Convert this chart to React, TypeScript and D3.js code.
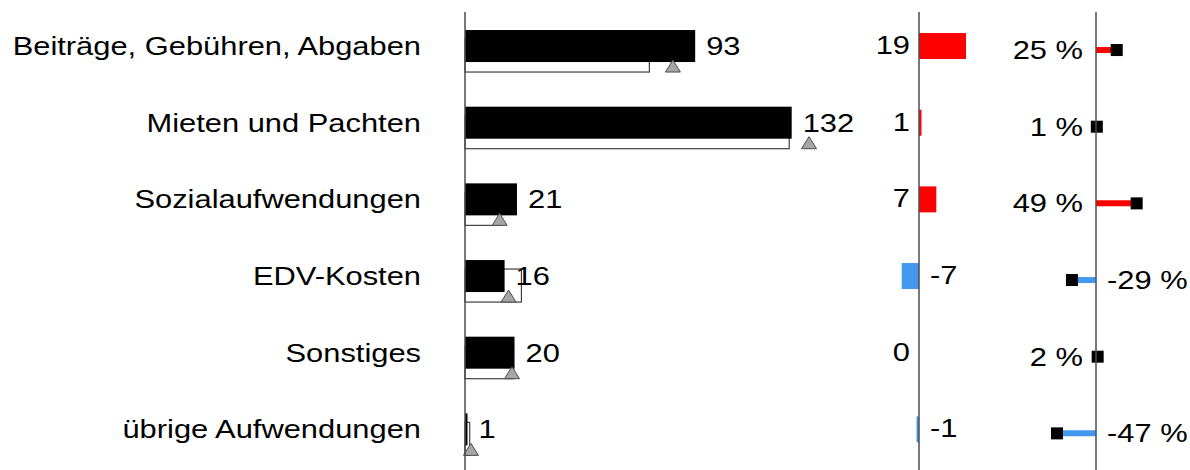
import React, { useEffect, useRef } from 'react';
import * as d3 from 'd3';

const categories = [
    'Beiträge, Gebühren, Abgaben',
    'Mieten und Pachten',
    'Sozialaufwendungen',
    'EDV-Kosten',
    'Sonstiges',
    'übrige Aufwendungen',
];
const actual = [93, 132, 21, 16, 20, 1];
const previous = [74.5, 131, 14.2, 22.8, 19.6, 1.9];
const plan = [84, 139, 14, 17.6, 19, 2.4];
const deltaAbs = [19, 1, 7, -7, 0, -1];
const deltaPct = [25, 1, 49, -29, 2, -47];

const W = 1190;
const H = 470;
const FONT = '"Liberation Sans", Arial, sans-serif';
const STRETCH = 1.235; // the picture's text is wider than it is tall
const RED = '#ff0000';
const BLUE = '#4499ee';

const App: React.FC = () => {
    const svgRef = useRef<SVGSVGElement | null>(null);

    useEffect(() => {
        if (svgRef.current) drawChart();
    }, []);

    const drawChart = () => {
        const svg = d3.select(svgRef.current);
        svg.selectAll('*').remove();

        const y = d3.scaleBand<string>().domain(categories).range([7.7, 467.7]);
        const mid = (i: number) => (y(categories[i]) as number) + y.bandwidth() / 2;

        const x = d3.scaleLinear().domain([0, 140]).range([465, 465 + 140 * 2.475]);
        const dx = d3.scaleLinear().domain([-20, 20]).range([919 - 49.5, 919 + 49.5]);
        const px = d3.scaleLinear().domain([-50, 50]).range([1096 - 41.5, 1096 + 41.5]);

        const rows = categories.map((c, i) => i);

        const addText = (
            g: d3.Selection<SVGGElement, unknown, null, undefined>,
            tx: number,
            ty: number,
            anchor: string,
            txt: string
        ) =>
            g
                .append('text')
                .attr('transform', `translate(${tx},${ty}) scale(${STRETCH},1)`)
                .attr('text-anchor', anchor)
                .style('font-family', FONT)
                .style('font-size', '25px')
                .style('fill', '#000')
                .text(txt);

        const root = svg.append('g');

        // category labels
        const labels = root.append('g');
        rows.forEach((i) => addText(labels, 421, mid(i) + 9, 'end', categories[i]));

        // previous year bars (behind, shifted down)
        root.append('g')
            .selectAll('rect')
            .data(rows)
            .enter()
            .append('rect')
            .attr('x', x(0))
            .attr('y', (i) => mid(i) - 7)
            .attr('width', (i) => x(previous[i]) - x(0))
            .attr('height', 33)
            .style('fill', '#fff')
            .style('stroke', '#404040')
            .style('stroke-width', 1.2);

        // actual bars
        root.append('g')
            .selectAll('rect')
            .data(rows)
            .enter()
            .append('rect')
            .attr('x', x(0))
            .attr('y', (i) => mid(i) - 16)
            .attr('width', (i) => x(actual[i]) - x(0))
            .attr('height', 32)
            .style('fill', '#000');

        // plan triangles
        const tri = d3.line()([
            [0, -12],
            [-7.5, 0],
            [7.5, 0],
        ]) + 'Z';
        root.append('g')
            .selectAll('path')
            .data(rows)
            .enter()
            .append('path')
            .attr('d', tri)
            .attr('transform', (i) => `translate(${x(plan[i])},${mid(i) + 26})`)
            .style('fill', '#a6a6a6')
            .style('stroke', '#4d4d4d')
            .style('stroke-width', 1);

        // actual value labels
        const acLab = root.append('g');
        rows.forEach((i) => addText(acLab, x(actual[i]) + 11, mid(i) + 9, 'start', String(actual[i])));

        // absolute deltas
        root.append('g')
            .selectAll('rect')
            .data(rows)
            .enter()
            .append('rect')
            .attr('x', (i) => dx(Math.min(0, deltaAbs[i])))
            .attr('y', (i) => mid(i) - 13)
            .attr('width', (i) => Math.abs(dx(deltaAbs[i]) - dx(0)))
            .attr('height', 26)
            .style('fill', (i) => (deltaAbs[i] >= 0 ? RED : BLUE));

        const dLab = root.append('g');
        rows.forEach((i) => {
            const v = deltaAbs[i];
            addText(dLab, v >= 0 ? dx(0) - 9 : dx(0) + 11, mid(i) + 8, v >= 0 ? 'end' : 'start', String(v));
        });

        // percentage deltas (pins)
        const pins = root.append('g');
        rows.forEach((i) => {
            const v = deltaPct[i];
            const cy = mid(i) + 4;
            pins.append('line')
                .attr('x1', px(0))
                .attr('x2', px(v))
                .attr('y1', cy)
                .attr('y2', cy)
                .style('stroke', v >= 0 ? RED : BLUE)
                .style('stroke-width', 6);
            pins.append('rect')
                .attr('x', px(v) - 6)
                .attr('y', cy - 6)
                .attr('width', 12)
                .attr('height', 12)
                .style('fill', '#000');
            addText(pins, v >= 0 ? px(0) - 13 : px(0) + 11, cy + 9, v >= 0 ? 'end' : 'start', `${v} %`);
        });

        // axis lines
        root.append('g')
            .selectAll('line')
            .data([x(0), dx(0), px(0)])
            .enter()
            .append('line')
            .attr('x1', (d) => d)
            .attr('x2', (d) => d)
            .attr('y1', 12)
            .attr('y2', H)
            .style('stroke', '#4d4d4d')
            .style('stroke-width', 1.5);
    };

    return (
        <svg
            ref={svgRef}
            width={W}
            height={H}
            style={{ position: 'absolute', left: 0, top: 0, background: '#fff' }}
        ></svg>
    );
};

export default App;
